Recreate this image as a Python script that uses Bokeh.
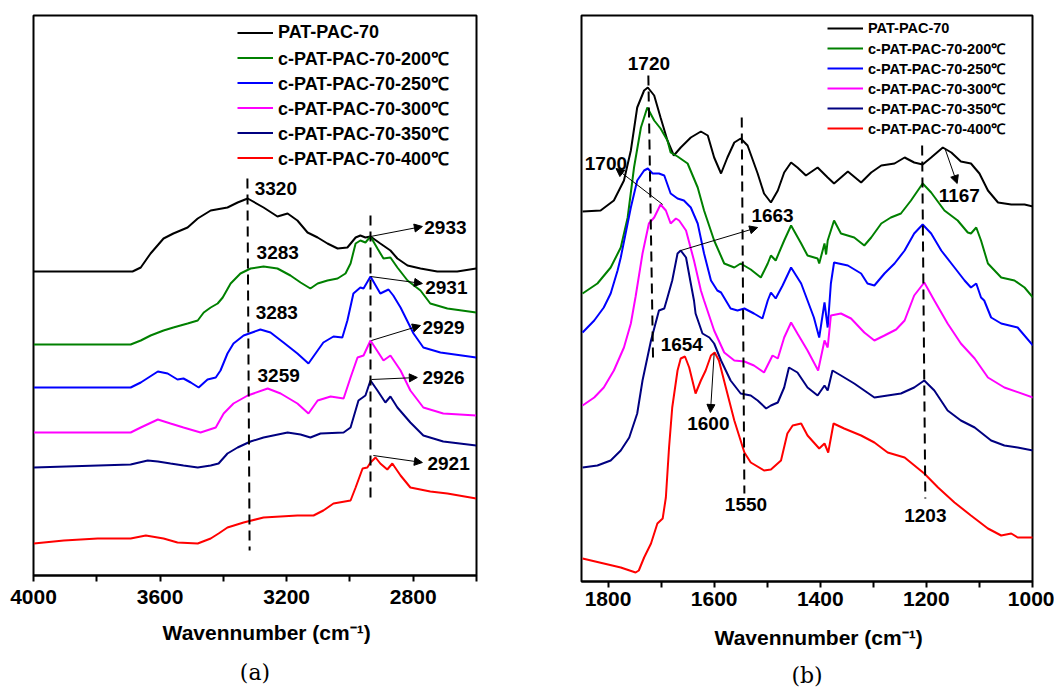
from bokeh.plotting import figure
from bokeh.layouts import row
from bokeh.models import (Range1d, FixedTicker, Legend, LegendItem, Arrow,
                          NormalHead, ColumnDataSource, Title)
from bokeh.core.properties import value
from bokeh.embed import file_html
from bokeh.resources import INLINE

# ---------------- series meta ----------------
series_labels = ["PAT-PAC-70", "c-PAT-PAC-70-200℃", "c-PAT-PAC-70-250℃",
                 "c-PAT-PAC-70-300℃", "c-PAT-PAC-70-350℃", "c-PAT-PAC-70-400℃"]
series_colors = ["#000000", "#008000", "#0000ff", "#ff00ff", "#000080", "#ff0000"]

# ---------------- panel (a): 4000-2600 cm-1 (arbitrary offset transmittance) ----------------
a_black_wn = [3999,3687,3661,3630,3589,3558,3513,3481,3440,3387,3355,3323,3273,3229,3197,3166,3134,3102,3071,3039,3008,2982,2967,2951,2935,2904,2872,2850,2818,2777,2724,2661,2601]
a_black_y = [304,304,308,322,337,342,348,357,365,368,373,377,368,359,362,355,343,338,332,327,328,338,340,338,339,332,325,317,310,307,304,304,307]

a_green_wn = [3999,3693,3661,3630,3589,3558,3513,3481,3462,3440,3418,3402,3377,3346,3314,3273,3229,3188,3156,3125,3102,3071,3039,3014,2998,2982,2967,2951,2935,2913,2894,2872,2850,2818,2777,2746,2692,2601]
a_green_y = [231,231,235,240,245,248,252,255,263,268,272,278,292,302,307,309,307,300,293,287,292,295,297,302,312,332,335,333,339,327,317,318,308,295,285,272,267,263]

a_blue_wn = [3999,3693,3661,3607,3576,3545,3526,3503,3478,3450,3424,3409,3387,3368,3336,3283,3251,3210,3166,3131,3102,3084,3052,3024,3008,2989,2967,2957,2935,2904,2878,2863,2840,2799,2768,2714,2601]
a_blue_y = [188,188,193,204,202,196,197,193,188,196,198,205,222,232,240,246,243,233,222,212,225,233,239,238,255,282,288,287,299,282,286,280,268,242,228,223,218]

a_magenta_wn = [3999,3693,3661,3607,3567,3526,3472,3424,3399,3368,3323,3260,3219,3166,3131,3102,3061,3020,2998,2976,2957,2935,2894,2872,2840,2809,2768,2705,2601]
a_magenta_y = [143,143,148,156,152,148,143,148,162,172,180,187,182,172,162,175,179,177,198,218,220,235,215,220,205,185,168,162,160]

a_navy_wn = [3999,3693,3639,3607,3567,3526,3481,3440,3415,3387,3355,3314,3273,3197,3156,3125,3093,3020,2998,2973,2951,2935,2913,2888,2872,2850,2809,2768,2705,2601]
a_navy_y = [108,111,115,114,112,110,108,110,112,122,128,134,138,143,141,138,142,143,148,175,180,195,185,173,179,168,153,140,134,130]

a_red_wn = [3999,3904,3797,3693,3645,3589,3545,3481,3440,3415,3387,3336,3273,3166,3115,3084,3052,2998,2982,2960,2945,2935,2919,2904,2882,2866,2840,2809,2746,2692,2601]
a_red_y = [32,35,37,37,40,37,33,32,37,42,48,53,58,60,60,65,72,75,88,107,108,113,118,112,106,112,100,88,84,82,77]

a_ticks = [4000, 3600, 3200, 2800]
a_minor_ticks = [3800, 3400, 3000, 2600]

# dashed guide lines (a)
a_dash_x0 = [3324, 2935]
a_dash_x1 = [3317, 2935]
a_dash_y0 = [397, 360]
a_dash_y1 = [25, 75]

# peak labels (a)
a_lbl_text = ["3320", "3283", "3283", "3259", "2933", "2931", "2929", "2926", "2921"]
a_lbl_x = [3301, 3295, 3298, 3292, 2765, 2762, 2771, 2771, 2755]
a_lbl_y = [387, 323, 263, 200, 348, 288, 248, 198, 112]

# arrows (a)
a_arr_x0 = [2935, 2935, 2932, 2932, 2926]
a_arr_y0 = [339, 299, 235, 196, 120]
a_arr_x1 = [2771, 2771, 2777, 2787, 2771]
a_arr_y1 = [349, 292, 250, 198, 113]

# ---------------- panel (b): 1850-1000 cm-1 ----------------
b_black_wn = [1848,1814,1789,1770,1757,1745,1732,1725,1713,1701,1688,1676,1663,1644,1625,1612,1600,1587,1575,1562,1550,1537,1518,1506,1493,1480,1468,1455,1443,1427,1405,1386,1374,1348,1323,1304,1285,1260,1241,1223,1207,1191,1169,1153,1135,1116,1100,1084,1065,1040,1015,999]
b_black_y = [371,372,382,402,432,475,492,495,487,465,442,427,435,445,451,447,425,409,425,440,444,437,409,389,380,392,410,420,415,407,415,405,399,411,400,410,417,419,425,420,418,425,435,430,421,419,409,392,380,378,378,376]

b_green_wn = [1848,1820,1795,1776,1763,1751,1738,1726,1713,1701,1688,1682,1669,1650,1631,1619,1600,1581,1562,1550,1531,1512,1499,1493,1484,1468,1455,1436,1424,1405,1402,1392,1389,1386,1374,1361,1336,1317,1304,1285,1267,1248,1229,1207,1191,1166,1141,1122,1116,1106,1097,1084,1059,1034,1015,999]
b_green_y = [289,299,315,335,365,415,455,475,462,454,442,430,426,419,395,372,342,319,315,319,313,305,319,327,322,342,357,339,327,324,319,339,328,342,362,349,345,337,345,359,365,369,382,399,390,372,362,350,349,355,342,319,305,302,295,285]

b_blue_wn = [1848,1826,1808,1795,1782,1776,1757,1745,1732,1725,1716,1704,1694,1682,1669,1657,1644,1631,1619,1606,1594,1587,1569,1556,1543,1525,1509,1499,1493,1484,1471,1455,1436,1424,1412,1402,1392,1386,1380,1374,1348,1323,1311,1298,1279,1260,1241,1223,1207,1191,1172,1147,1128,1116,1106,1097,1091,1078,1059,1028,999]
b_blue_y = [250,262,275,289,312,325,375,402,412,414,409,409,407,389,384,382,375,359,329,302,292,290,274,272,274,269,264,282,290,284,297,315,299,282,265,245,280,255,299,320,317,309,299,297,309,319,332,349,358,349,332,315,302,295,299,285,282,265,259,255,237]

b_magenta_wn = [1848,1826,1808,1789,1770,1757,1748,1735,1723,1713,1701,1691,1682,1672,1666,1653,1638,1625,1619,1600,1581,1562,1543,1525,1506,1490,1480,1468,1455,1443,1424,1404,1392,1386,1380,1361,1342,1317,1298,1279,1257,1241,1223,1204,1185,1160,1135,1109,1084,1053,999]
b_magenta_y = [177,185,195,212,235,259,286,329,359,365,378,372,359,364,362,352,322,292,282,252,230,222,221,217,210,227,224,245,260,249,232,212,242,235,267,269,264,250,242,247,253,262,287,300,282,259,239,224,205,195,185]

b_navy_wn = [1848,1820,1795,1776,1760,1745,1735,1719,1704,1694,1688,1679,1669,1663,1653,1644,1638,1635,1622,1609,1600,1587,1569,1550,1531,1518,1502,1493,1480,1468,1459,1443,1424,1405,1392,1386,1377,1361,1336,1317,1298,1273,1248,1223,1204,1185,1160,1135,1109,1078,1053,1028,999]
b_navy_y = [115,117,122,132,145,169,202,242,272,274,285,302,329,332,325,299,282,269,249,245,239,222,202,189,187,182,174,177,180,195,215,210,195,187,197,192,212,207,199,192,185,187,189,195,202,192,172,162,155,142,137,135,132]

b_red_wn = [1848,1808,1776,1748,1742,1732,1719,1707,1697,1691,1685,1679,1669,1663,1655,1647,1635,1625,1616,1606,1599,1591,1578,1562,1543,1531,1506,1493,1474,1462,1452,1436,1424,1402,1392,1385,1375,1355,1323,1298,1273,1241,1204,1178,1147,1116,1084,1059,1040,1028,999]
b_red_y = [24,19,15,10,12,25,39,59,64,85,135,175,212,224,226,215,189,202,212,227,230,222,195,162,130,120,112,113,122,149,157,159,147,134,139,130,159,154,147,140,130,125,109,95,80,67,54,47,49,45,45]

b_ticks = [1800, 1600, 1400, 1200, 1000]
b_minor_ticks = [1700, 1500, 1300, 1100]

b_dash_x0 = [1724, 1548, 1208]
b_dash_x1 = [1715, 1543, 1202]
b_dash_y0 = [507, 465, 437]
b_dash_y1 = [219, 89, 84]

b_lbl_text = ["1720", "1700", "1663", "1167", "1654", "1600", "1550", "1203"]
b_lbl_x = [1723, 1804, 1490, 1138, 1661, 1611, 1540, 1202]
b_lbl_y = [519, 419, 367, 387, 238, 159, 78, 67]

b_arr_x0 = [1697, 1663, 1165, 1600]
b_arr_y0 = [378, 332, 434, 229]
b_arr_x1 = [1785, 1518, 1142, 1607]
b_arr_y1 = [414, 355, 399, 170]

SANS = "Liberation Sans"
SERIF = "DejaVu Serif"
AXIS_TITLE = "\u00a0\u00a0\u00a0\u00a0Wavennumber (cm⁻¹)"


def style_axes(p, ticks, minor, standoff, title_standoff):
    p.yaxis.visible = False
    p.xgrid.visible = False
    p.ygrid.visible = False
    p.outline_line_color = "black"
    p.outline_line_width = 2
    p.outline_line_alpha = 1
    ax = p.xaxis[0]
    ax.ticker = FixedTicker(ticks=ticks, minor_ticks=minor)
    ax.axis_line_width = 2
    ax.major_tick_line_width = 2
    ax.minor_tick_line_width = 2
    ax.major_tick_in = 0
    ax.major_tick_out = 6
    ax.minor_tick_in = 0
    ax.minor_tick_out = 6
    ax.major_label_standoff = standoff
    ax.major_label_text_font = SANS
    ax.major_label_text_font_style = "bold"
    ax.major_label_text_font_size = "21px"
    ax.major_label_text_color = "black"
    ax.axis_label = AXIS_TITLE
    ax.axis_label_text_font = SANS
    ax.axis_label_text_font_style = "bold"
    ax.axis_label_text_font_size = "21px"
    ax.axis_label_text_color = "black"
    ax.axis_label_standoff = title_standoff


def add_series(p, data, legend_loc, font_size, row_h):
    items = []
    for (wn, yy), lab, col in zip(data, series_labels, series_colors):
        r = p.line(wn, yy, line_color=col, line_width=2)
        items.append(LegendItem(label=lab, renderers=[r]))
    leg = Legend(items=items, location=legend_loc, orientation="vertical",
                 label_text_font=SANS, label_text_font_style="bold",
                 label_text_font_size=font_size, label_text_color="black",
                 glyph_width=36, glyph_height=row_h, label_height=row_h,
                 label_standoff=5, spacing=0, padding=0, margin=0,
                 border_line_alpha=0, background_fill_alpha=0)
    p.add_layout(leg)


def add_annotations(p, dx0, dx1, dy0, dy1, lt, lx, ly, align, ax0, ay0, ax1, ay1):
    p.segment(x0=dx0, y0=dy0, x1=dx1, y1=dy1, line_color="black",
              line_width=2, line_dash="10 6")
    src = ColumnDataSource(dict(x=lx, y=ly, t=lt))
    p.text(x="x", y="y", text="t", source=src, text_font=value(SANS),
           text_font_style="bold", text_font_size="19px", text_color="black",
           text_align=align, text_baseline="middle")
    asrc = ColumnDataSource(dict(x0=ax0, y0=ay0, x1=ax1, y1=ay1))
    p.add_layout(Arrow(x_start="x0", y_start="y0", x_end="x1", y_end="y1",
                       source=asrc, line_color="black", line_width=1,
                       end=NormalHead(size=8, fill_color="black",
                                      line_color="black", line_width=1)))


# ---------------- figure (a) ----------------
pa = figure(frame_width=443, frame_height=560, x_range=Range1d(4000, 2600),
            y_range=Range1d(0, 560), output_backend="svg", toolbar_location=None,
            min_border_left=33, min_border_right=72, min_border_top=15,
            min_border_bottom=10, background_fill_color="white",
            border_fill_color="white")
style_axes(pa, a_ticks, a_minor_ticks, 8, 14)
add_series(pa, [(a_black_wn, a_black_y), (a_green_wn, a_green_y),
                (a_blue_wn, a_blue_y), (a_magenta_wn, a_magenta_y),
                (a_navy_wn, a_navy_y), (a_red_wn, a_red_y)],
           (204, 405), "18px", 25)
add_annotations(pa, a_dash_x0, a_dash_x1, a_dash_y0, a_dash_y1,
                a_lbl_text, a_lbl_x, a_lbl_y, "left",
                a_arr_x0, a_arr_y0, a_arr_x1, a_arr_y1)
pa.add_layout(Title(text="(a)", align="center", text_font=SERIF,
                    text_font_style="normal", text_font_size="22px",
                    text_color="black", standoff=23), "below")

# ---------------- figure (b) ----------------
pb = figure(frame_width=451, frame_height=566, x_range=Range1d(1850, 1000),
            y_range=Range1d(1, 567), output_backend="svg", toolbar_location=None,
            min_border_left=33, min_border_right=22, min_border_top=15,
            min_border_bottom=10, background_fill_color="white",
            border_fill_color="white")
style_axes(pb, b_ticks, b_minor_ticks, 4, 17)
add_series(pb, [(b_black_wn, b_black_y), (b_green_wn, b_green_y),
                (b_blue_wn, b_blue_y), (b_magenta_wn, b_magenta_y),
                (b_navy_wn, b_navy_y), (b_red_wn, b_red_y)],
           (246, 443), "14.5px", 20)
add_annotations(pb, b_dash_x0, b_dash_x1, b_dash_y0, b_dash_y1,
                b_lbl_text, b_lbl_x, b_lbl_y, "center",
                b_arr_x0, b_arr_y0, b_arr_x1, b_arr_y1)
pb.add_layout(Title(text="(b)", align="center", text_font=SERIF,
                    text_font_style="normal", text_font_size="22px",
                    text_color="black", standoff=18), "below")

layout = row(pa, pb)
open("out.html", "w").write(file_html(layout, INLINE))
